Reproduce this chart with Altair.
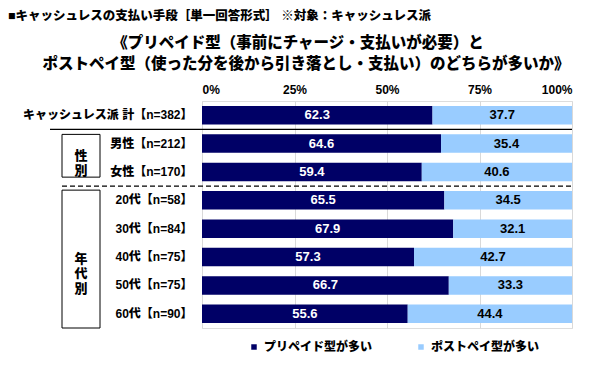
import altair as alt
import pandas as pd

categories = ["キャッシュレス派 計【n=382】", "男性【n=212】", "女性【n=170】",
              "20代【n=58】", "30代【n=84】", "40代【n=75】", "50代【n=75】", "60代【n=90】"]
prepaid = [62.3, 64.6, 59.4, 65.5, 67.9, 57.3, 66.7, 55.6]
postpaid = [37.7, 35.4, 40.6, 34.5, 32.1, 42.7, 33.3, 44.4]
series = ["プリペイド型が多い", "ポストペイ型が多い"]
colors = ["#000066", "#99CCFF"]
ticks = [0, 25, 50, 75, 100]
header = "■キャッシュレスの支払い手段［単一回答形式］ ※対象：キャッシュレス派"
title_lines = ["《プリペイド型（事前にチャージ・支払いが必要）と",
               "ポストペイ型（使った分を後から引き落とし・支払い）のどちらが多いか》"]
group_labels = ["性\n別", "年\n代\n別"]

FONT = "'Liberation Sans', 'Noto Sans CJK JP', sans-serif"
HEAVY = 900
W, H = 370, 227
STEP = H / len(categories)

rows = []
for c, a, b in zip(categories, prepaid, postpaid):
    rows.append({"cat": c, "series": series[0], "value": a, "order": 0})
    rows.append({"cat": c, "series": series[1], "value": b, "order": 1})
df = pd.DataFrame(rows)

yenc = alt.Y("cat:N", sort=categories,
             scale=alt.Scale(paddingInner=0.35, paddingOuter=0.175),
             axis=alt.Axis(title=None, ticks=False, domain=False, labelFont=FONT,
                           labelFontSize=12, labelFontWeight=HEAVY, labelColor="#000",
                           labelPadding=10, labelLimit=300))
xscale = alt.Scale(domain=[0, 100])

bars = alt.Chart(df).mark_bar().encode(
    y=yenc,
    x=alt.X("value:Q", stack="zero", scale=xscale,
            axis=alt.Axis(orient="top", values=ticks, labelExpr="datum.value + '%'",
                          title=None, ticks=False, domain=False, grid=True,
                          gridColor="#d9d9d9", labelFont=FONT, labelFontSize=12,
                          labelFontWeight="bold", labelColor="#000", labelPadding=5)),
    color=alt.Color("series:N", scale=alt.Scale(domain=series, range=colors),
                    legend=alt.Legend(title=None, orient="none", direction="horizontal",
                                      legendX=46, legendY=240, symbolType="square",
                                      symbolSize=30, symbolStrokeWidth=0,
                                      labelFont=FONT, labelFontSize=12,
                                      labelFontWeight=HEAVY, labelColor="#000",
                                      columnPadding=42, labelOffset=4)),
    order=alt.Order("order:Q"),
)

labels = alt.Chart(df).transform_stack(
    stack="value", groupby=["cat"], as_=["x0", "x1"], sort=[alt.SortField("order")]
).transform_calculate(mid="(datum.x0 + datum.x1) / 2").mark_text(
    font=FONT, fontSize=13, fontWeight="bold"
).encode(
    y=alt.Y("cat:N", sort=categories),
    x=alt.X("mid:Q", scale=xscale),
    text=alt.Text("value:Q", format=".1f"),
    color=alt.condition(alt.datum.order == 0, alt.value("#ffffff"), alt.value("#000000")),
)

one = alt.Data(values=[{}])
solid = alt.Chart(one).mark_rule(color="#000", strokeWidth=1.3).encode(
    x=alt.value(-152), x2=alt.value(W), y=alt.value(STEP * 1))
dashed = alt.Chart(one).mark_rule(color="#000", strokeWidth=1.3, strokeDash=[5, 3]).encode(
    x=alt.value(-140), x2=alt.value(W), y=alt.value(STEP * 3))

box1 = alt.Chart(one).mark_rect(fill="white", stroke="black", strokeWidth=1).encode(
    x=alt.value(-140), x2=alt.value(-102), y=alt.value(STEP * 1 + 5), y2=alt.value(STEP * 3 - 9))
box2 = alt.Chart(one).mark_rect(fill="white", stroke="black", strokeWidth=1).encode(
    x=alt.value(-140), x2=alt.value(-102), y=alt.value(STEP * 3 + 4), y2=alt.value(H))
g1 = alt.Chart(one).mark_text(font=FONT, fontSize=13, fontWeight=HEAVY, lineBreak="\n",
                              lineHeight=15).encode(
    x=alt.value(-121), y=alt.value(STEP * 2 - 2), text=alt.value(group_labels[0]))
g2 = alt.Chart(one).mark_text(font=FONT, fontSize=13, fontWeight=HEAVY, lineBreak="\n",
                              lineHeight=15).encode(
    x=alt.value(-121), y=alt.value((STEP * 3 + 4 + H) / 2), text=alt.value(group_labels[1]))

t0 = alt.Chart(one).mark_text(font=FONT, fontSize=12.5, fontWeight=HEAVY, align="left").encode(
    x=alt.value(-194), y=alt.value(-85), text=alt.value(header))
t1 = alt.Chart(one).mark_text(font=FONT, fontSize=15.5, fontWeight=HEAVY).encode(
    x=alt.value(96), y=alt.value(-58), text=alt.value(title_lines[0]))
t2 = alt.Chart(one).mark_text(font=FONT, fontSize=15.5, fontWeight=HEAVY).encode(
    x=alt.value(104), y=alt.value(-37), text=alt.value(title_lines[1]))

chart = alt.layer(bars, labels, solid, dashed, box1, box2, g1, g2, t0, t1, t2).properties(
    width=W, height=H,
    autosize=alt.AutoSizeParams(type="none"),
    padding={"left": 194, "top": 93, "right": 20, "bottom": 29},
).configure_view(stroke="#b0b0b0", strokeWidth=1).configure(background="white")

chart.save("out.html", embed_options={"renderer": "svg", "actions": False})
